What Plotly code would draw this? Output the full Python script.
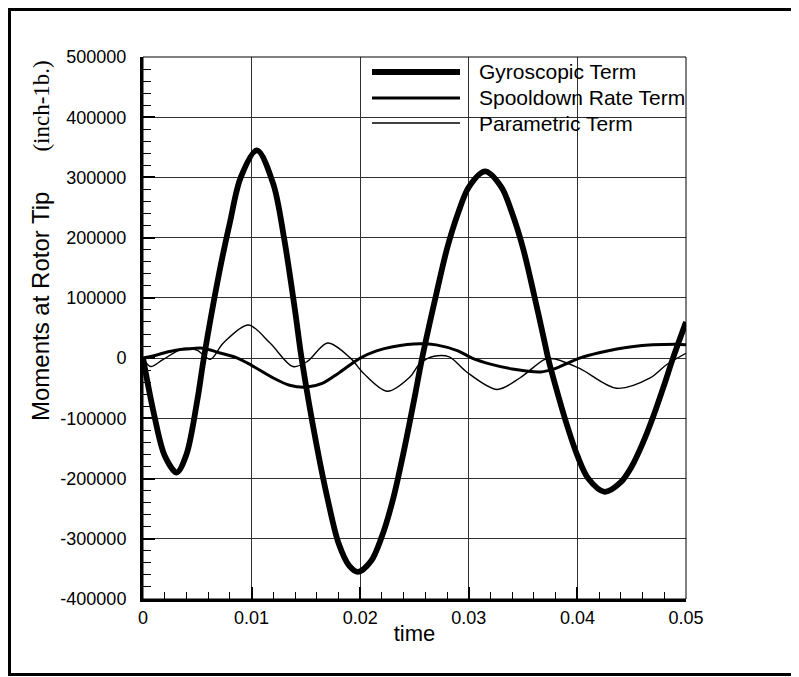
import plotly.graph_objects as go

# ---------------- data ----------------
time_gyro = [0, 0.001, 0.002, 0.0031, 0.004, 0.005, 0.0056, 0.007, 0.008, 0.009, 0.0105,
             0.012, 0.013, 0.014, 0.0146, 0.016, 0.017, 0.018, 0.019, 0.0198, 0.021, 0.022,
             0.023, 0.024, 0.025, 0.0257, 0.027, 0.028, 0.029, 0.030, 0.0315, 0.033, 0.034,
             0.035, 0.036, 0.037, 0.0373, 0.038, 0.039, 0.040, 0.041, 0.0425, 0.044, 0.045,
             0.046, 0.047, 0.048, 0.0488, 0.05]
gyro = [0, -92000, -162000, -190000, -160000, -70000, 0, 140000, 225000, 300000, 345000,
        289000, 198000, 79000, 0, -146000, -234000, -307000, -345000, -355000, -337000, -296000,
        -236000, -156000, -66000, 0, 106000, 182000, 240000, 284000, 310000, 284000, 240000,
        182000, 106000, 25000, 0, -47000, -109000, -162000, -200000, -222000, -206000, -180000,
        -142000, -96000, -44000, 0, 60000]

time_spool = [0, 0.001, 0.002, 0.003, 0.004, 0.0055, 0.007, 0.0087, 0.010, 0.012, 0.0135,
              0.0151, 0.0165, 0.018, 0.020, 0.0215, 0.023, 0.0255, 0.027, 0.029, 0.0303,
              0.032, 0.034, 0.0366, 0.038, 0.0402, 0.042, 0.045, 0.049, 0.05]
spool = [0, 4000, 9000, 13000, 15000, 16500, 9000, 0, -12000, -33000, -45000,
         -48000, -42000, -25000, 0, 12000, 19000, 24000, 22000, 12000, 0,
         -10000, -18000, -23000, -17000, 0, 9000, 19000, 23000, 22000]

time_param = [0, 0.0007, 0.0018, 0.0037, 0.005, 0.0062, 0.0074, 0.0097, 0.0117, 0.0138,
              0.0151, 0.017, 0.0191, 0.0203, 0.0225, 0.0246, 0.0255, 0.0268, 0.0282, 0.0298,
              0.0326, 0.0347, 0.037, 0.0378, 0.0402, 0.0436, 0.0467, 0.0482, 0.05]
param = [0, -14000, -3000, 16000, 13000, -2000, 25000, 55000, 25000, -14000,
         -6000, 25000, 0, -25000, -55000, -31000, -9000, 3000, 2000, -23000,
         -52000, -33000, -2000, -1000, -17000, -50000, -33000, -11000, 8000]

series_names = ["Gyroscopic Term", "Spooldown Rate Term", "Parametric Term"]

x_ticks = [0, 0.01, 0.02, 0.03, 0.04, 0.05]
x_tick_labels = ["0", "0.01", "0.02", "0.03", "0.04", "0.05"]
y_ticks = [-400000, -300000, -200000, -100000, 0, 100000, 200000, 300000, 400000, 500000]
y_tick_labels = ["-400000", "-300000", "-200000", "-100000", "0",
                 "100000", "200000", "300000", "400000", "500000"]

# ---------------- layout geometry ----------------
# the page body adds an 8px offset, so the figure is made 8px smaller and
# all page-pixel positions below are shifted by OFF.
OFF = 8
W, H = 799 - OFF, 677 - OFF
L, R, T, B = 143 - OFF, 686 - OFF, 57 - OFF, 599 - OFF


def px(xp):
    return (xp - OFF - L) / (R - L)


def py(yp):
    return (B - (yp - OFF)) / (B - T)


FONT = "Liberation Sans, Arial, Helvetica, sans-serif"
SERIF = "Liberation Serif, Times New Roman, serif"
widths = [5.8, 3, 1.4]

fig = go.Figure()
for tx, vals, name, w in [(time_gyro, gyro, series_names[0], widths[0]),
                          (time_spool, spool, series_names[1], widths[1]),
                          (time_param, param, series_names[2], widths[2])]:
    fig.add_trace(go.Scatter(x=tx, y=vals, name=name, mode="lines",
                             line=dict(color="black", width=w, shape="spline", smoothing=0.9),
                             showlegend=False))

fig.update_layout(
    width=W, height=H,
    margin=dict(l=L, r=W - R, t=T, b=H - B, pad=0),
    paper_bgcolor="white", plot_bgcolor="white",
    font=dict(family=FONT, color="black"),
    showlegend=False,
)

fig.update_xaxes(
    range=[0, 0.05], tickvals=x_ticks, ticktext=x_tick_labels,
    showgrid=True, gridcolor="#303030", gridwidth=1, zeroline=False,
    showline=True, linecolor="black", linewidth=3,
    ticks="inside", ticklen=12, tickwidth=2, tickcolor="black",
    minor=dict(ticks="inside", ticklen=7, tickwidth=1, tickcolor="black",
               dtick=0.002, tick0=0, showgrid=False),
    tickfont=dict(size=18, family=FONT),
    title=dict(text="time", font=dict(size=22, family=FONT), standoff=0),
)
fig.update_yaxes(
    range=[-400000, 500000], tickvals=y_ticks, ticktext=y_tick_labels,
    showgrid=True, gridcolor="#303030", gridwidth=1, zeroline=False,
    showline=True, linecolor="black", linewidth=3,
    ticks="inside", ticklen=12, tickwidth=2, tickcolor="black",
    minor=dict(ticks="inside", ticklen=8, tickwidth=1, tickcolor="black",
               dtick=20000, tick0=0, showgrid=False),
    tickfont=dict(size=18, family=FONT),
    ticklabelstandoff=10,
)

shapes = []
# thin top/right border of the plot
shapes.append(dict(type="rect", xref="paper", yref="paper", x0=0, x1=1, y0=0, y1=1,
                   line=dict(color="black", width=1), layer="above"))
# outer frame
shapes.append(dict(type="rect", xref="paper", yref="paper",
                   x0=px(9.5), x1=px(792.5), y0=py(674.5), y1=py(9.5),
                   line=dict(color="black", width=3)))

# legend (drawn manually to get long line samples)
legend_y = [72, 98, 123]
annotations = []
for name, w, yy in zip(series_names, widths, legend_y):
    shapes.append(dict(type="line", xref="paper", yref="paper",
                       x0=px(372), x1=px(460), y0=py(yy), y1=py(yy),
                       line=dict(color="black", width=w)))
    annotations.append(dict(xref="paper", yref="paper", x=px(477), y=py(yy),
                            text=name, showarrow=False, xanchor="left", yanchor="middle",
                            font=dict(size=21, family=FONT, color="black")))

# y axis title
annotations.append(dict(
    xref="paper", yref="paper", x=px(41), y=py(241), textangle=-90,
    showarrow=False, xanchor="center", yanchor="middle",
    text=("Moments at Rotor Tip&nbsp;&nbsp;&nbsp;&nbsp;&nbsp;&nbsp;"
          "<span style='font-family:" + SERIF + ";font-size:23px'>(inch-1b.)</span>"),
    font=dict(size=24, family=FONT, color="black")))

fig.update_layout(shapes=shapes, annotations=annotations)

fig.write_html("out.html")
